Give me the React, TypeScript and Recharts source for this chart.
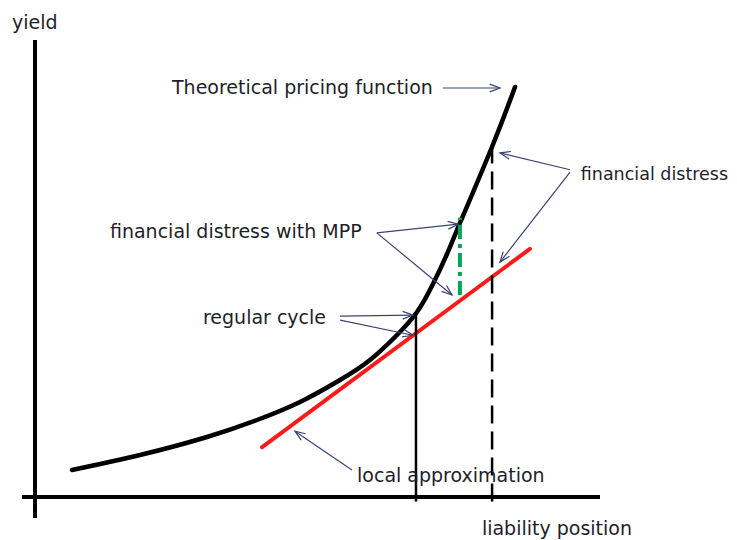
import {
  ComposedChart,
  Line,
  XAxis,
  YAxis,
  ReferenceLine,
  ReferenceDot,
} from 'recharts';

// pricing curve (liability position -> yield)
const curveX = [6.55, 18.58, 30.44, 39.29, 46.9, 53.98, 59.29, 64.07, 67.61, 70.44, 72.92, 75.22, 80.88, 84.96];
const curveY = [5.91, 9.19, 13.13, 16.85, 20.79, 25.6, 29.98, 35.45, 40.48, 46.61, 53.17, 59.96, 76.59, 89.72];

// local (linear) approximation
const tangentX = [40.2, 87.6];
const tangentY = [10.9, 54.3];

// vertical markers: regular cycle, financial distress, distress with MPP
const regularX = 67.43;
const regularTop = 40.48;
const distressX = 80.9;
const distressTop = 76.4;
const mppX = 75.2;
const mppRange = [44.2, 61.1];

const labels = [
  { text: 'yield', x: -4.07, y: 102.4 },
  { text: 'Theoretical pricing function', x: 24.25, y: 88.2 },
  { text: 'financial distress', x: 96.6, y: 69.4 },
  { text: 'financial distress with MPP', x: 13.27, y: 56.7 },
  { text: 'regular cycle', x: 29.73, y: 37.9 },
  { text: 'local approximation', x: 57.0, y: 3.3 },
  { text: 'liability position', x: 79.1, y: -8.3 },
];

// annotation arrows [from, to]
const arrows = [
  { x1: 72.2, y1: 89.5, x2: 82.3, y2: 89.5 },
  { x1: 94.7, y1: 71.6, x2: 82.3, y2: 75.3 },
  { x1: 94.7, y1: 71.1, x2: 82.3, y2: 51.4 },
  { x1: 60.5, y1: 57.8, x2: 74.9, y2: 59.7 },
  { x1: 60.5, y1: 57.8, x2: 73.8, y2: 44.2 },
  { x1: 54.0, y1: 39.6, x2: 66.9, y2: 39.8 },
  { x1: 54.0, y1: 38.7, x2: 66.9, y2: 35.4 },
  { x1: 56.1, y1: 5.9, x2: 46.0, y2: 14.4 },
];

const curveData = curveX.map((x, i) => ({ x, y: curveY[i] }));
const tangentData = tangentX.map((x, i) => ({ x, y: tangentY[i] }));

const ARROW_COLOR = '#3a4472';
const TEXT_COLOR = '#1e1e2a';
// the right-hand label sits against the page edge, so it is set a bit smaller
const EDGE_LABEL = 'financial distress';

function Arrow(props: any) {
  const { x1, y1, x2, y2 } = props;
  const ang = Math.atan2(y2 - y1, x2 - x1);
  const len = 11;
  const spread = 0.36;
  const ax = x2 - len * Math.cos(ang - spread);
  const ay = y2 - len * Math.sin(ang - spread);
  const bx = x2 - len * Math.cos(ang + spread);
  const by = y2 - len * Math.sin(ang + spread);
  return (
    <g>
      <line x1={x1} y1={y1} x2={x2} y2={y2} stroke={ARROW_COLOR} strokeWidth={1.2} />
      <polyline
        points={`${ax},${ay} ${x2},${y2} ${bx},${by}`}
        fill="none"
        stroke={ARROW_COLOR}
        strokeWidth={1.2}
      />
    </g>
  );
}

export default function App() {
  return (
    <div style={{ position: 'absolute', left: 0, top: 0, background: '#fff' }}>
      <ComposedChart
        width={737}
        height={540}
        margin={{ top: 40, right: 137, bottom: 43, left: 35 }}
      >
        <XAxis type="number" dataKey="x" domain={[0, 100]} hide allowDataOverflow />
        <YAxis type="number" dataKey="y" domain={[0, 100]} hide allowDataOverflow />

        {/* axes */}
        <ReferenceLine
          segment={[{ x: 0, y: -4.6 }, { x: 0, y: 100 }]}
          stroke="#000"
          strokeWidth={4}
          ifOverflow="visible"
        />
        <ReferenceLine
          segment={[{ x: -2.3, y: 0 }, { x: 100, y: 0 }]}
          stroke="#000"
          strokeWidth={4}
          ifOverflow="visible"
        />

        <Line
          data={curveData}
          dataKey="y"
          type="natural"
          stroke="#000"
          strokeWidth={4.5}
          strokeLinecap="round"
          dot={false}
          activeDot={false}
          isAnimationActive={false}
        />
        <Line
          data={tangentData}
          dataKey="y"
          type="linear"
          stroke="#ff1a1a"
          strokeWidth={4}
          strokeLinecap="round"
          dot={false}
          activeDot={false}
          isAnimationActive={false}
        />

        <ReferenceLine
          segment={[{ x: regularX, y: -1 }, { x: regularX, y: regularTop }]}
          stroke="#000"
          strokeWidth={2.5}
          ifOverflow="visible"
        />
        <ReferenceLine
          segment={[{ x: distressX, y: -1 }, { x: distressX, y: distressTop }]}
          stroke="#000"
          strokeWidth={2.5}
          strokeDasharray="18 8"
          ifOverflow="visible"
        />
        <ReferenceLine
          segment={[{ x: mppX, y: mppRange[0] }, { x: mppX, y: mppRange[1] }]}
          stroke="#00a651"
          strokeWidth={4}
          strokeDasharray="14 5 4 5"
          ifOverflow="visible"
        />

        {arrows.map((a, i) => (
          <ReferenceLine
            key={`arrow-${i}`}
            segment={[{ x: a.x1, y: a.y1 }, { x: a.x2, y: a.y2 }]}
            ifOverflow="visible"
            shape={(p: any) => <Arrow {...p} />}
          />
        ))}

        {labels.map((l) => (
          <ReferenceDot
            key={l.text}
            x={l.x}
            y={l.y}
            r={0}
            ifOverflow="visible"
            shape={(p: any) => (
              <text
                x={p.cx}
                y={p.cy}
                fill={TEXT_COLOR}
                fontFamily="'DejaVu Sans', sans-serif"
                fontSize={l.text === EDGE_LABEL ? 17.5 : 19}
              >
                {l.text}
              </text>
            )}
          />
        ))}
      </ComposedChart>
    </div>
  );
}
